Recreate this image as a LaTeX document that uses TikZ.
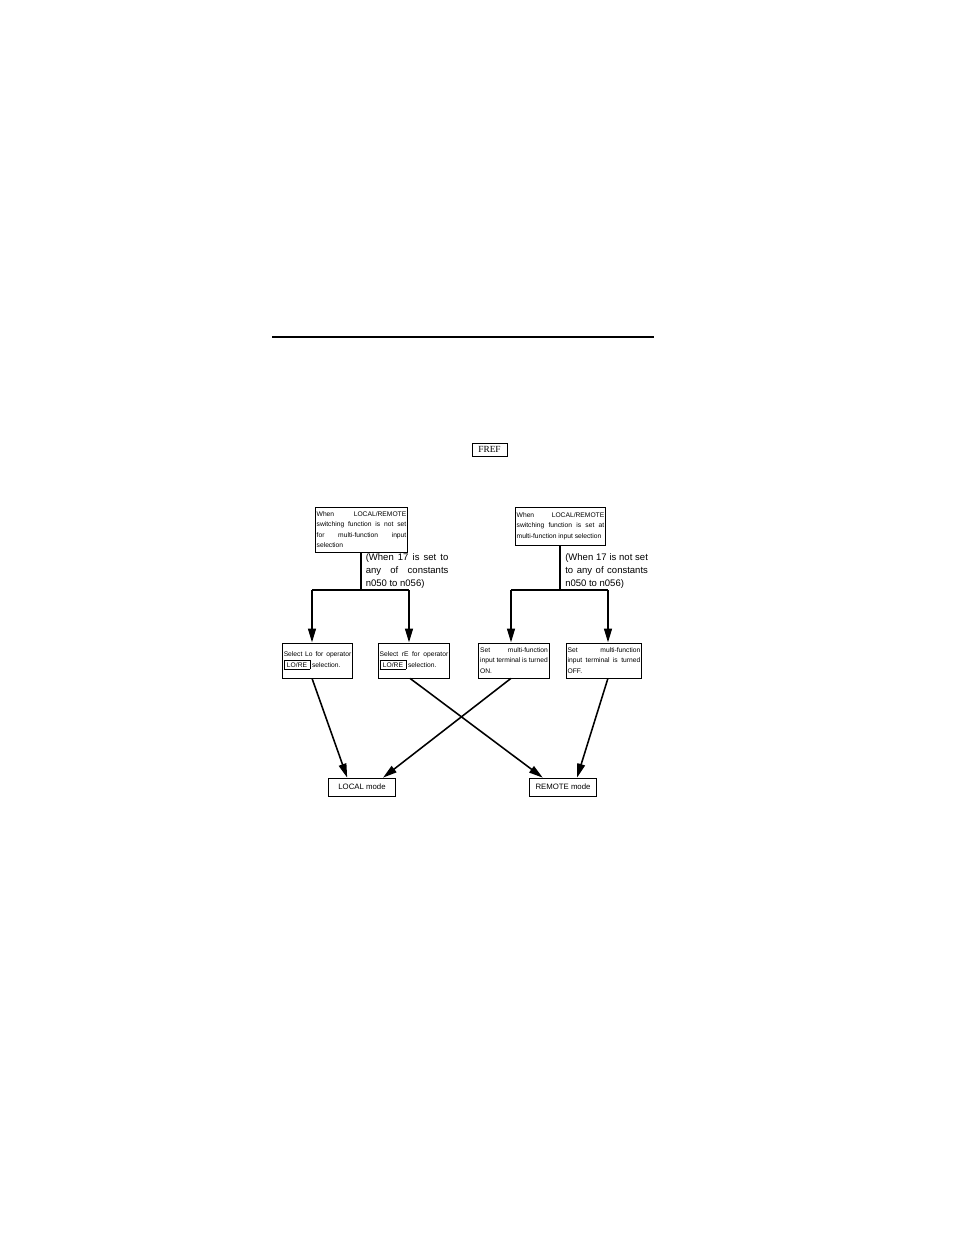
\documentclass[tikz,border=0pt]{standalone}
\usepackage{fontspec}
\setmainfont{Liberation Sans}
\newfontfamily\serifrm{Liberation Serif}
\usetikzlibrary{arrows.meta}
\newcommand{\lorekey}{{\setlength{\fboxsep}{1.1pt}\setlength{\fboxrule}{0.45pt}\framebox[17pt]{LO/RE}}}

\begin{document}
\begin{tikzpicture}[x=0.6415pt,y=-0.6415pt,
    every node/.style={inner sep=1pt},
    cond/.style={draw,line width=0.5pt,align=justify,font=\fontsize{4.3}{6.8}\selectfont},
    note/.style={anchor=north west,inner sep=0,align=justify,text width=53pt,font=\fontsize{6.1}{8.4}\selectfont},
    mode/.style={draw,line width=0.5pt,minimum width=42.5pt,minimum height=11.5pt,font=\fontsize{5}{6}\selectfont},
    stem/.style={line width=1.3pt},
    arr/.style={line width=1.3pt,-{Triangle[length=9pt,width=5pt]}},
    cross/.style={line width=1pt,-{Triangle[length=9pt,width=5pt]}}]
  \useasboundingbox (0,0) rectangle (954,1235);
  \draw[line width=0.7pt] (272,337) -- (654,337);
  \node[draw,line width=0.4pt,minimum width=22.5pt,minimum height=8.3pt,font=\serifrm\fontsize{6}{7}\selectfont] (fref) at (489.5,449.5) {FREF};

  \node[cond,text width=57.5pt,minimum height=28.9pt] (notset) at (361.5,529.5) {When LOCAL/REMOTE\linebreak switching function is not set\linebreak for multi-function input\linebreak selection};
  \node[cond,text width=56.2pt,minimum height=24.4pt] (isset) at (560.5,526) {When LOCAL/REMOTE\linebreak switching function is set at\linebreak multi-function input selection};
  \node[note] (notsetnote) at (365.5,553.5) {(When 17 is set to\linebreak any of constants\linebreak n050 to n056)};
  \node[note] (issetnote) at (565,553.5) {(When 17 is not set\linebreak to any of constants\linebreak n050 to n056)};

  \node[cond,text width=43.3pt,minimum height=22.5pt] (sello) at (317.5,660.5) {Select Lo for operator\linebreak \lorekey\ selection.};
  \node[cond,text width=44pt,minimum height=22.5pt] (selre) at (414,660.5) {Select rE for operator\linebreak \lorekey\ selection.};
  \node[cond,text width=43.4pt,minimum height=22.5pt] (termon) at (514,660.5) {Set multi-function\linebreak input terminal is turned\linebreak ON.};
  \node[cond,text width=46.6pt,minimum height=22.5pt] (termoff) at (604,660.5) {Set multi-function\linebreak input terminal is turned\linebreak OFF.};

  \node[mode] (local) at (362,787) {LOCAL mode};
  \node[mode] (remote) at (563,787) {REMOTE mode};

  \coordinate (lj) at (361,590);
  \coordinate (ljw) at (312,590);
  \coordinate (lje) at (409,590);
  \coordinate (rj) at (560,590);
  \coordinate (rjw) at (511,590);
  \coordinate (rje) at (608,590);
  \draw[stem] (notset.south -| lj) -- (lj);
  \draw[stem] (ljw) -- (lje);
  \draw[arr] (ljw) -- (ljw |- sello.north);
  \draw[arr] (lje) -- (lje |- selre.north);
  \draw[stem] (isset.south -| rj) -- (rj);
  \draw[stem] (rjw) -- (rje);
  \draw[arr] (rjw) -- (rjw |- termon.north);
  \draw[arr] (rje) -- (rje |- termoff.north);

  \draw[cross] ([xshift=-3.5pt]sello.south) -- ([xshift=-9.5pt]local.north);
  \draw[cross] ([xshift=-2pt]termon.south) -- ([xshift=13.5pt]local.north);
  \draw[cross] ([xshift=-2.5pt]selre.south) -- ([xshift=-13pt]remote.north);
  \draw[cross] ([xshift=2.5pt]termoff.south) -- ([xshift=9pt]remote.north);
\end{tikzpicture}
\end{document}
